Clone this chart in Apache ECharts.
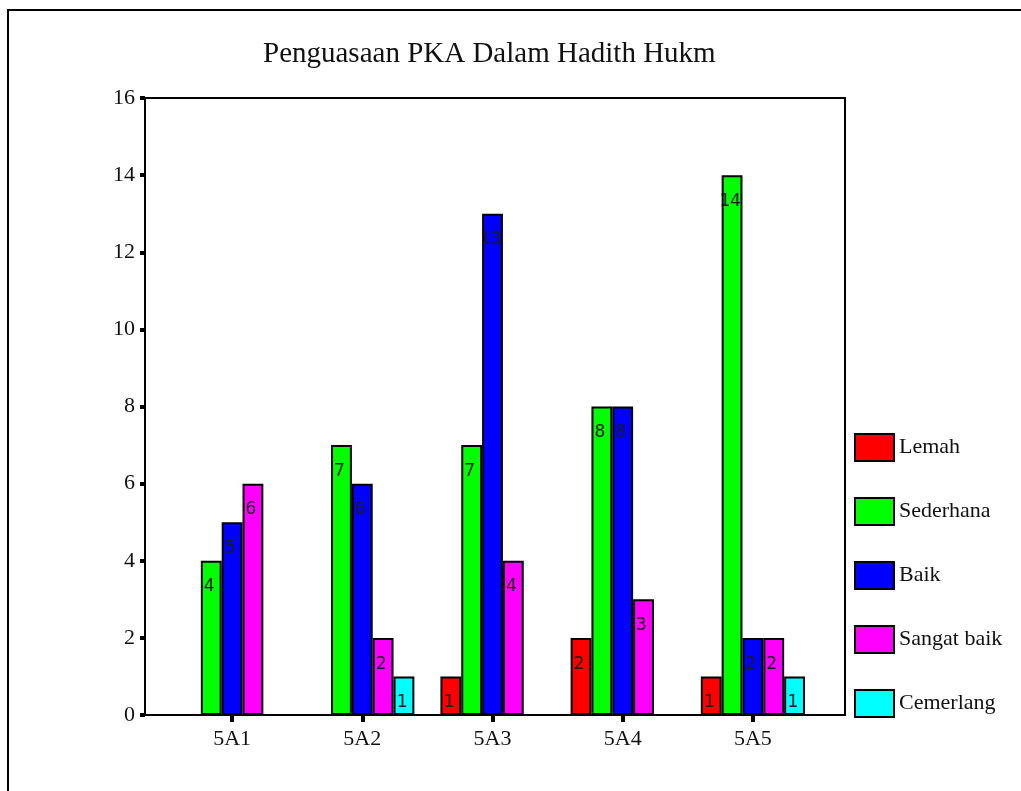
<!DOCTYPE html>
<html>
<head>
<meta charset="utf-8">
<script src="https://cdn.jsdelivr.net/npm/echarts@6/dist/echarts.min.js"></script>
<style>
  html, body { margin: 0; padding: 0; background: #fff; }
  #main { width: 1021px; height: 791px; }
</style>
</head>
<body>
<div id="main"></div>
<script>
var categories = ['5A1', '5A2', '5A3', '5A4', '5A5'];
var lemah = [null, null, 1, 2, 1];
var sederhana = [4, 7, 7, 8, 14];
var baik = [5, 6, 13, 8, 2];
var sangatBaik = [6, 2, 4, 3, 2];
var cemerlang = [null, 1, null, null, 1];
var yTicks = [0, 2, 4, 6, 8, 10, 12, 14, 16];

var serif = '"Liberation Serif", "Times New Roman", serif';

var chart = echarts.init(document.getElementById('main'));

function barSeries(name, data, color) {
    return {
        name: name,
        type: 'bar',
        xAxisIndex: 1,
        yAxisIndex: 1,
        data: data,
        barGap: '0%',
        barCategoryGap: '20%',
        itemStyle: {
            color: color,
            borderColor: '#000',
            borderWidth: 2
        },
        label: {
            show: true,
            position: 'insideTop',
            distance: 17,
            offset: [-2, 0],
            fontFamily: '"DejaVu Sans Mono", monospace',
            fontSize: 18,
            color: '#1a1a1a'
        }
    };
}

var option = {
    backgroundColor: '#fff',
    animation: false,
    title: {
        text: 'Penguasaan PKA Dalam Hadith Hukm',
        left: 258,
        top: 35,
        textStyle: {
            fontFamily: serif,
            fontWeight: 'normal',
            fontSize: 29,
            color: '#111'
        }
    },
    legend: {
        orient: 'vertical',
        left: 854,
        top: 433,
        padding: 0,
        itemWidth: 39,
        itemHeight: 27,
        itemGap: 35,
        icon: 'rect',
        textStyle: {
            fontFamily: serif,
            fontSize: 22,
            color: '#111'
        }
    },
    graphic: [{
        type: 'rect',
        shape: { x: 8, y: 10, width: 1100, height: 900 },
        style: { fill: 'none', stroke: '#000', lineWidth: 2 },
        silent: true
    }],
    grid: [{
        left: 145, right: 176, top: 98, bottom: 76,
        show: true,
        borderColor: '#000',
        borderWidth: 2
    }, {
        left: 167, right: 203, top: 98, bottom: 76
    }],
    xAxis: [{
        gridIndex: 0,
        type: 'value',
        show: false
    }, {
        gridIndex: 1,
        type: 'category',
        data: categories,
        axisLine: { show: false },
        axisTick: {
            show: true,
            alignWithLabel: true,
            length: 7,
            lineStyle: { color: '#000', width: 4 }
        },
        axisLabel: {
            margin: 13,
            fontFamily: serif,
            fontSize: 22,
            color: '#111'
        }
    }],
    yAxis: [{
        gridIndex: 0,
        type: 'value',
        min: yTicks[0],
        max: yTicks[yTicks.length - 1],
        interval: 2,
        splitLine: { show: false },
        axisLine: { show: true, lineStyle: { color: '#000', width: 2 } },
        axisTick: {
            show: true,
            length: 5,
            lineStyle: { color: '#000', width: 4 }
        },
        axisLabel: {
            margin: 10,
            fontFamily: serif,
            fontSize: 22,
            color: '#111'
        }
    }, {
        gridIndex: 1,
        type: 'value',
        min: yTicks[0],
        max: yTicks[yTicks.length - 1],
        show: false
    }],
    series: [
        barSeries('Lemah', lemah, '#ff0000'),
        barSeries('Sederhana', sederhana, '#00ff00'),
        barSeries('Baik', baik, '#0000ff'),
        barSeries('Sangat baik', sangatBaik, '#ff00ff'),
        barSeries('Cemerlang', cemerlang, '#00ffff')
    ]
};

chart.setOption(option);
</script>
</body>
</html>
